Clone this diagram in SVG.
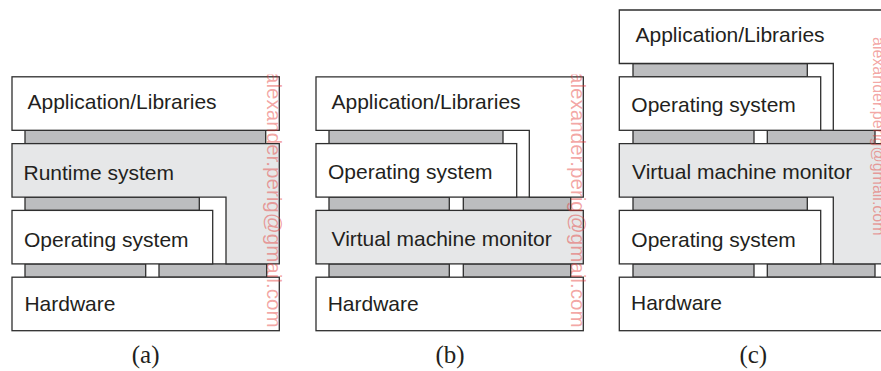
<svg xmlns="http://www.w3.org/2000/svg" width="881" height="371" viewBox="0 0 881 371">
<style>
.box{fill:#ffffff;stroke:#2e2e2e;stroke-width:1.3}
.sys{fill:#e6e7e8;stroke:#2e2e2e;stroke-width:1.3}
.bar{fill:#bcbdbf;stroke:#2e2e2e;stroke-width:1.3}
.lbl{font-family:"Liberation Sans",Arial,sans-serif;font-size:21px;fill:#231f20}
.cap{font-family:"Liberation Serif","Times New Roman",serif;font-size:25px;fill:#231f20;text-anchor:middle}
.wm{font-family:"Liberation Sans",Arial,sans-serif;fill:#e53935;fill-opacity:0.45}
</style>
<defs>
<clipPath id="clipTop"><rect x="0" y="74.5" width="881" height="280"/></clipPath>
</defs>
<g id="connectors"/>
<!-- Panel (a) -->
<g id="a-bars">
<rect class="bar" x="25" y="130.3" width="240.7" height="13.3"/>
<rect class="bar" x="25" y="197.1" width="174.3" height="13.3"/>
<rect class="bar" x="25" y="263.9" width="120.7" height="13.3"/>
<rect class="bar" x="159" y="263.9" width="107.7" height="13.3"/>
</g>
<g id="a-app"><rect class="box" x="12" y="76.8" width="267.3" height="53.5"/><text class="lbl" x="27.5" y="109">Application/Libraries</text></g>
<g id="a-runtime"><path class="sys" d="M12,143.6 H279.3 V263.9 H226 V197.1 H12 Z"/><text class="lbl" x="23.5" y="180">Runtime system</text></g>
<g id="a-os"><rect class="box" x="12" y="210.4" width="200.7" height="53.5"/><text class="lbl" x="24" y="246.5">Operating system</text></g>
<g id="a-hw"><rect class="box" x="12" y="277.2" width="267.3" height="53.5"/><text class="lbl" x="24.4" y="311">Hardware</text></g>
<text class="cap" x="145.6" y="362.6">(a)</text>
<!-- Panel (b) -->
<g id="b-bars">
<rect class="bar" x="329" y="130.3" width="174" height="13.3"/>
<rect class="bar" x="329" y="197.1" width="120.3" height="13.3"/>
<rect class="bar" x="463.3" y="197.1" width="107.4" height="13.3"/>
<rect class="bar" x="329" y="263.9" width="120.3" height="13.3"/>
<rect class="bar" x="463.3" y="263.9" width="107.4" height="13.3"/>
</g>
<g id="b-app"><path class="box" d="M316,76.8 H583.3 V197.1 H529.3 V130.3 H316 Z"/><text class="lbl" x="331.5" y="109.3">Application/Libraries</text></g>
<g id="b-os"><rect class="box" x="316" y="143.6" width="200.7" height="53.5"/><text class="lbl" x="328" y="179.3">Operating system</text></g>
<g id="b-vmm"><rect class="sys" x="316" y="210.4" width="267.3" height="53.5"/><text class="lbl" x="331.5" y="245.7">Virtual machine monitor</text></g>
<g id="b-hw"><rect class="box" x="316" y="277.2" width="267.3" height="53.5"/><text class="lbl" x="327.7" y="311">Hardware</text></g>
<text class="cap" x="450" y="362.6">(b)</text>
<!-- Panel (c) -->
<g id="c-bars">
<rect class="bar" x="633" y="63.5" width="174.3" height="13.3"/>
<rect class="bar" x="633" y="130.3" width="121" height="13.3"/>
<rect class="bar" x="767.3" y="130.3" width="107.7" height="13.3"/>
<rect class="bar" x="633" y="197.1" width="174.3" height="13.3"/>
<rect class="bar" x="633" y="263.9" width="121" height="13.3"/>
<rect class="bar" x="767.3" y="263.9" width="107.7" height="13.3"/>
</g>
<g id="c-app"><path class="box" d="M619.3,10 H886.6 V130.3 H833.3 V63.5 H619.3 Z"/><text class="lbl" x="635.5" y="42.3">Application/Libraries</text></g>
<g id="c-os1"><rect class="box" x="619.3" y="76.8" width="201.4" height="53.5"/><text class="lbl" x="631.3" y="112.3">Operating system</text></g>
<g id="c-vmm"><path class="sys" d="M619.3,143.6 H886.6 V263.9 H833.3 V197.1 H619.3 Z"/><text class="lbl" x="632" y="179">Virtual machine monitor</text></g>
<g id="c-os2"><rect class="box" x="619.3" y="210.4" width="201.4" height="53.5"/><text class="lbl" x="631.3" y="246.7">Operating system</text></g>
<g id="c-hw"><rect class="box" x="619.3" y="277.2" width="267.3" height="53.5"/><text class="lbl" x="631" y="310">Hardware</text></g>
<text class="cap" x="753.3" y="362.6">(c)</text>
<!-- watermark -->
<g id="watermark">
<g clip-path="url(#clipTop)">
<text class="wm" font-size="20.6" transform="translate(267,72) rotate(90)">alexander.perig@gmail.com</text>
<text class="wm" font-size="20.6" transform="translate(571,72) rotate(90)">alexander.perig@gmail.com</text>
</g>
<text class="wm" font-size="16" transform="translate(873,37) rotate(90)">alexander.perig@gmail.com</text>
</g>
</svg>
